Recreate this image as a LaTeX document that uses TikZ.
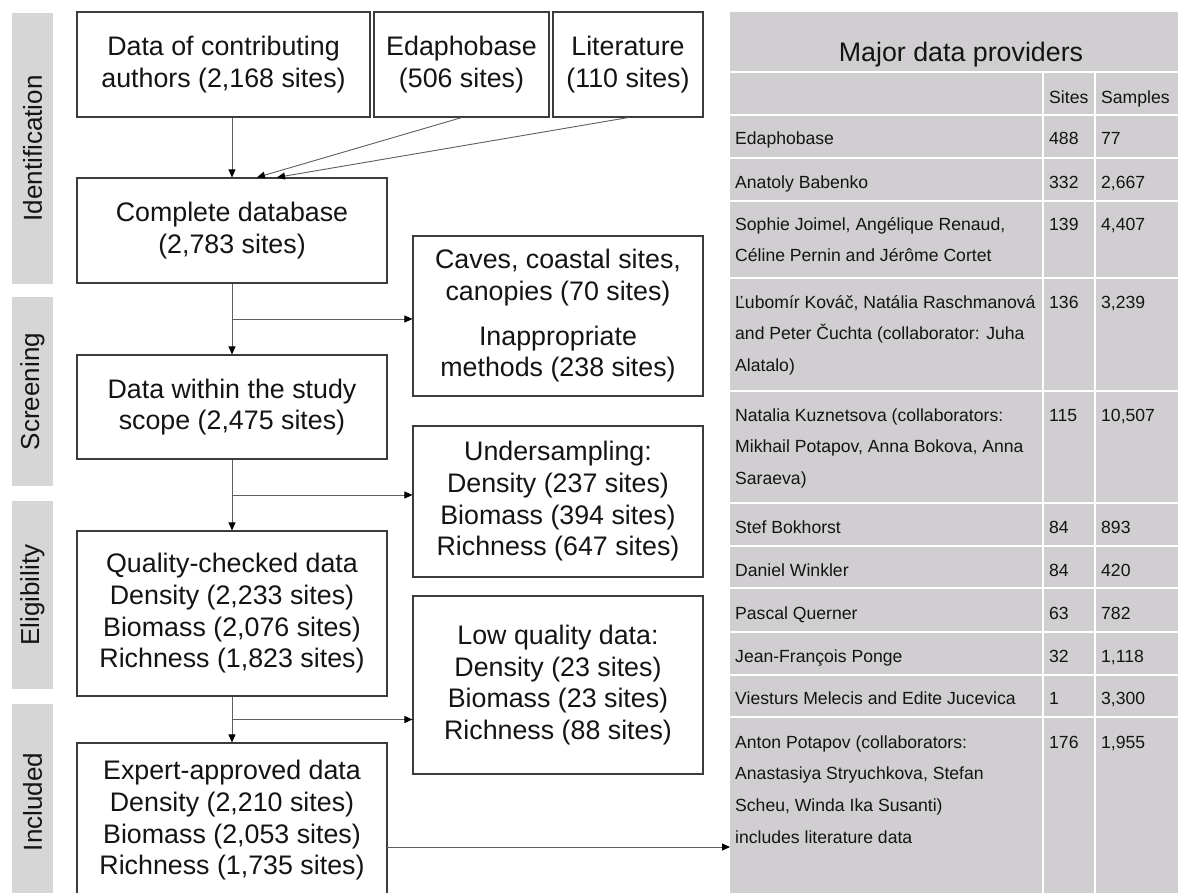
\documentclass[tikz,border=0pt]{standalone}
\usepackage{fontspec}
\setmainfont{Liberation Sans}
\usetikzlibrary{arrows.meta,calc}
\definecolor{sidegray}{RGB}{214,214,214}
\definecolor{tabgray}{RGB}{208,206,208}
\definecolor{boxline}{RGB}{60,60,60}
\definecolor{arrgray}{RGB}{95,95,95}
\definecolor{txt}{RGB}{20,20,20}
\begin{document}
\begin{tikzpicture}[x=1pt,y=-1pt,
 flowbox/.style={draw=boxline, line width=1.2pt, fill=white, inner sep=0pt, align=center, text=txt, font=\fontsize{26.8}{31.7}\selectfont, execute at begin node={\rule{0pt}{26pt}}},
 sidebar/.style={fill=sidegray, inner sep=0pt, rotate=90, minimum height=41pt, font=\fontsize{26}{30}\selectfont, text=txt},
 conn/.style={draw=arrgray, line width=0.9pt, -{Triangle[length=8pt,width=7pt,color=black]}},
 cell/.style={anchor=base west, inner sep=0pt, align=left, text=txt, font=\fontsize{17.6}{31.7}\selectfont},
 gridline/.style={draw=white, line width=2.5pt}]
\useasboundingbox (0,0) rectangle (1178,892);
\clip (0,0) rectangle (1178,892);
\fill[white] (0,0) rectangle (1178,892);

% side bars
\node[sidebar, minimum width=271pt] (sIdent) at (32.5,148.5) {Identification};
\node[sidebar, minimum width=189pt] (sScreen) at (32.5,391.5) {Screening};
\node[sidebar, minimum width=188pt] (sElig) at (32.5,595) {Eligibility};
\node[sidebar, minimum width=196pt] (sIncl) at (32.5,802) {Included};

% flow boxes
\node[flowbox, minimum width=293pt, minimum height=105pt] (src1) at (223.5,64.5) {Data of contributing\\authors (2,168 sites)};
\node[flowbox, minimum width=175pt, minimum height=105pt] (src2) at (461.5,64.5) {Edaphobase\\(506 sites)};
\node[flowbox, minimum width=150pt, minimum height=105pt] (src3) at (628,64.5) {Literature\\(110 sites)};
\node[flowbox, minimum width=310pt, minimum height=105pt] (complete) at (232,230.5) {Complete database\\(2,783 sites)};
\node[flowbox, minimum width=290pt, minimum height=160pt] (caves) at (558,316) {Caves, coastal sites,\\canopies (70 sites)\\[13pt]Inappropriate\\methods (238 sites)};
\node[flowbox, minimum width=310pt, minimum height=104pt] (scope) at (232,407) {Data within the study\\scope (2,475 sites)};
\node[flowbox, minimum width=290pt, minimum height=151pt] (under) at (558,501.5) {Undersampling:\\Density (237 sites)\\Biomass (394 sites)\\Richness (647 sites)};
\node[flowbox, minimum width=310pt, minimum height=165pt] (quality) at (232,613.5) {Quality-checked data\\Density (2,233 sites)\\Biomass (2,076 sites)\\Richness (1,823 sites)};
\node[flowbox, minimum width=290pt, minimum height=178pt] (lowq) at (558,685) {Low quality data:\\Density (23 sites)\\Biomass (23 sites)\\Richness (88 sites)};
\node[flowbox, minimum width=310pt, minimum height=155pt] (expert) at (232,820.5) {Expert-approved data\\Density (2,210 sites)\\Biomass (2,053 sites)\\Richness (1,735 sites)};

% table background
\node[fill=tabgray, inner sep=0pt, minimum width=462pt, minimum height=890pt, anchor=north west] (tbl) at (730,12) {};
\foreach \yy in {72,115,158,201,278,391,503,546,588,632,675,717}
  \draw[gridline] (730,\yy) -- (1192,\yy);
\draw[gridline] (1043,72) -- (1043,900);
\draw[gridline] (1095,72) -- (1095,900);

% table text
\node[anchor=base, inner sep=0pt, text=txt, font=\fontsize{26.8}{31}\selectfont] (ttitle) at (961,61) {Major data providers};
\node[cell] (hSites) at (1049,103) {Sites};
\node[cell] (hSamples) at (1101,103) {Samples};

\node[cell] (n1) at (735,144) {Edaphobase};
\node[cell] (a1) at (1049,144) {488};
\node[cell] (b1) at (1101,144) {77};

\node[cell] (n2) at (735,188) {Anatoly Babenko};
\node[cell] (a2) at (1049,188) {332};
\node[cell] (b2) at (1101,188) {2,667};

\node[cell] (n3) at (735,261.7) {Sophie Joimel, Angélique Renaud,\\Céline Pernin and Jérôme Cortet};
\node[cell] (a3) at (1049,230) {139};
\node[cell] (b3) at (1101,230) {4,407};

\node[cell] (n4) at (735,371.4) {Ľubomír Kováč, Natália Raschmanová\\and Peter Čuchta (collaborator: Juha\\Alatalo)};
\node[cell] (a4) at (1049,308) {136};
\node[cell] (b4) at (1101,308) {3,239};

\node[cell] (n5) at (735,484.4) {Natalia Kuznetsova (collaborators:\\Mikhail Potapov, Anna Bokova, Anna\\Saraeva)};
\node[cell] (a5) at (1049,421) {115};
\node[cell] (b5) at (1101,421) {10,507};

\node[cell] (n6) at (735,533) {Stef Bokhorst};
\node[cell] (a6) at (1049,533) {84};
\node[cell] (b6) at (1101,533) {893};

\node[cell] (n7) at (735,576) {Daniel Winkler};
\node[cell] (a7) at (1049,576) {84};
\node[cell] (b7) at (1101,576) {420};

\node[cell] (n8) at (735,619) {Pascal Querner};
\node[cell] (a8) at (1049,619) {63};
\node[cell] (b8) at (1101,619) {782};

\node[cell] (n9) at (735,662) {Jean-François Ponge};
\node[cell] (a9) at (1049,662) {32};
\node[cell] (b9) at (1101,662) {1,118};

\node[cell] (n10) at (735,704) {Viesturs Melecis and Edite Jucevica};
\node[cell] (a10) at (1049,704) {1};
\node[cell] (b10) at (1101,704) {3,300};

\node[cell] (n11) at (735,843.1) {Anton Potapov (collaborators:\\Anastasiya Stryuchkova, Stefan\\Scheu, Winda Ika Susanti)\\includes literature data};
\node[cell] (a11) at (1049,748) {176};
\node[cell] (b11) at (1101,748) {1,955};

% connectors
\draw[conn] (src1.south -| complete.north) -- (complete.north);
\draw[conn] (src2.south) -- ([xshift=25pt]complete.north);
\draw[conn] (src3.south) -- ([xshift=45pt]complete.north);

\coordinate (m1) at ($(complete.south)!0.5!(scope.north)$);
\draw[conn] (complete.south) -- (scope.north);
\draw[conn] (m1) -- (m1 -| caves.west);

\coordinate (m2) at ($(scope.south)!0.5!(quality.north)$);
\draw[conn] (scope.south) -- (quality.north);
\draw[conn] (m2) -- (m2 -| under.west);

\coordinate (m3) at ($(quality.south)!0.5!(expert.north)$);
\draw[conn] (quality.south) -- (expert.north);
\draw[conn] (m3) -- (m3 -| lowq.west);

\coordinate (tout) at (387,847);
\draw[conn] (tout) -- (tout -| tbl.west);
\end{tikzpicture}
\end{document}
